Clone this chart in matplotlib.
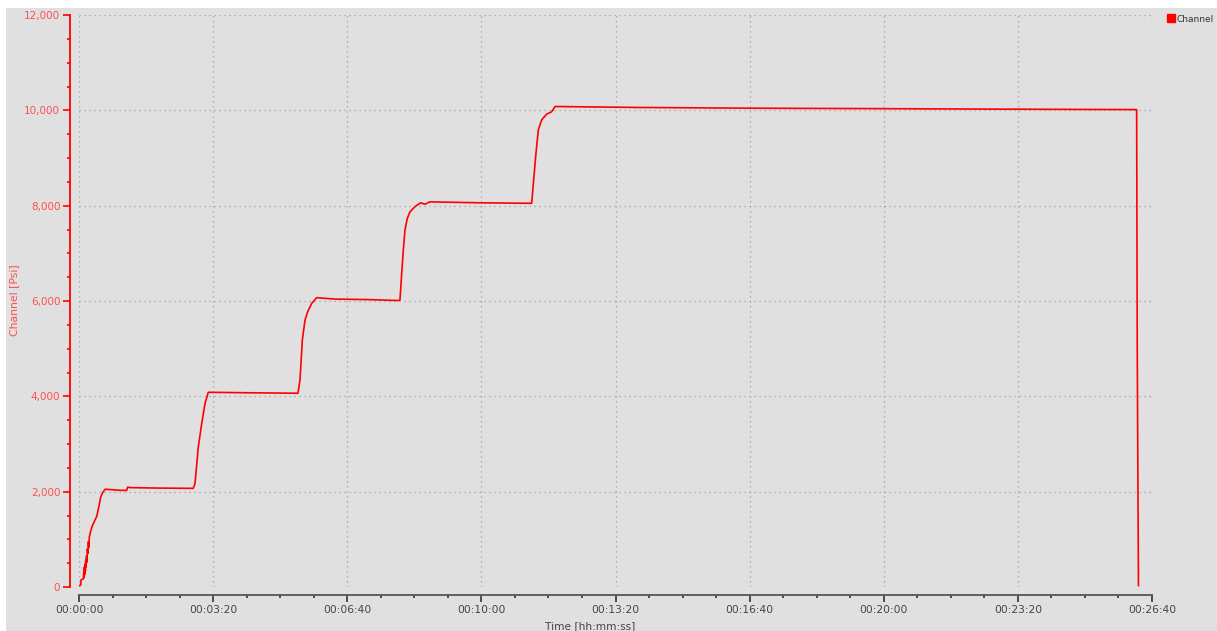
import matplotlib
matplotlib.use("Agg")
import matplotlib.pyplot as plt
from matplotlib.lines import Line2D
from matplotlib.patches import Rectangle
from matplotlib.ticker import MultipleLocator, FuncFormatter

# Pressure test log (time in seconds, pressure in psi)
time_s = [0.5, 2.5, 3.0, 5.0, 6.5, 7.0, 7.5, 8.0, 8.5, 9.0, 9.5, 10.0, 10.5,
          11.2, 11.8, 12.5, 13.2, 14.0, 14.6, 15.4, 17.0, 19.8, 23.0, 26.4,
          29.8, 32.4, 35.3, 38.8, 46.0, 60.0, 71.0, 72.6, 76.0, 120.0, 170.4,
          173.0, 177.9, 183.0, 187.9, 192.8, 250.0, 326.5, 329.5, 331.0, 333.0,
          337.0, 341.0, 347.0, 354.4, 381.7, 430.0, 476.1, 478.6, 481.2, 483.6,
          486.1, 489.5, 493.5, 501.0, 509.5, 515.9, 523.4, 597.9, 675.0, 678.4,
          681.4, 684.9, 689.9, 697.4, 704.8, 709.8, 836.5, 1000.0, 1200.0,
          1373.0, 1577.1, 1578.0, 1579.8]
channel_psi = [30, 40, 150, 160, 170, 300, 200, 420, 260, 480, 330, 560, 420,
               650, 520, 800, 700, 950, 830, 1050, 1150, 1280, 1380, 1480,
               1700, 1890, 1980, 2050, 2045, 2030, 2025, 2095, 2085, 2075, 2070,
               2175, 2940, 3430, 3850, 4085, 4075, 4065, 4340, 4690, 5180,
               5600, 5775, 5950, 6070, 6040, 6030, 6010, 6020, 6580, 7070,
               7490, 7730, 7870, 7980, 8060, 8030, 8080, 8060, 8050, 8610,
               9100, 9590, 9800, 9920, 9970, 10080, 10060, 10045, 10035,
               10025, 10015, 5000, 30]

BG = "#dfe0df"
RED = "#ff0000"
LABEL_RED = "#ff5050"
W, H = 1217, 631


def hms(x, pos):
    s = int(round(x))
    return f"{s // 3600:02d}:{(s % 3600) // 60:02d}:{s % 60:02d}"


fig = plt.figure(figsize=(W / 100, H / 100), dpi=100, facecolor="white")
fig.patches.append(Rectangle((6 / W, 0), 1, 1 - 8 / H, transform=fig.transFigure,
                             facecolor=BG, edgecolor="none", zorder=-10))

ax = fig.add_axes([79 / W, 44 / H, 1073 / W, 572 / H])
ax.set_facecolor("none")
ax.plot(time_s, channel_psi, color=RED, linewidth=1.2)

ax.set_xlim(0, 1600)
ax.set_ylim(0, 12000)

# x axis: hh:mm:ss every 200 s
ax.xaxis.set_major_locator(MultipleLocator(200))
ax.xaxis.set_minor_locator(MultipleLocator(50))
ax.xaxis.set_major_formatter(FuncFormatter(hms))
ax.yaxis.set_major_locator(MultipleLocator(2000))
ax.yaxis.set_minor_locator(MultipleLocator(500))
ax.yaxis.set_major_formatter(FuncFormatter(lambda v, p: f"{int(v):,}"))

ax.grid(True, which="major", linestyle=(0, (1, 3)), color="#a0a0a0", linewidth=0.9)

for side in ["top", "right"]:
    ax.spines[side].set_visible(False)
ax.spines["left"].set_position(("outward", 6.5))
ax.spines["bottom"].set_position(("outward", 5.8))
ax.spines["left"].set_color(RED)
ax.spines["left"].set_linewidth(1.3)
ax.spines["bottom"].set_color("#555555")
ax.spines["bottom"].set_linewidth(1.3)

ax.tick_params(axis="y", which="major", length=5, width=1.2, color=RED,
               labelcolor=LABEL_RED, labelsize=7.5, pad=2)
ax.tick_params(axis="y", which="minor", length=2.5, width=1.2, color=RED)
ax.tick_params(axis="x", which="major", length=5, width=1.2, color="#333333",
               labelcolor="#444444", labelsize=7.7, pad=2)
ax.tick_params(axis="x", which="minor", length=2.5, width=1.2, color="#333333")

fig.text(14 / W, 1 - 300 / H, "Channel [Psi]", rotation=90, color=LABEL_RED,
         fontsize=7.8, ha="center", va="center")
fig.text(590 / W, 1 - 626 / H, "Time [hh:mm:ss]", color="#444444",
         fontsize=7.7, ha="center", va="center")

handle = Line2D([], [], marker="s", color=RED, linestyle="None", markersize=5.5)
fig.legend(handles=[handle], labels=["Channel"], loc="upper left",
           bbox_to_anchor=(1163 / W, 1 - 11 / H), frameon=False, fontsize=6.5,
           handletextpad=0.1, handlelength=1.0, borderaxespad=0, labelcolor="#333333")

fig.savefig("out.png", dpi=100, facecolor=fig.get_facecolor())
